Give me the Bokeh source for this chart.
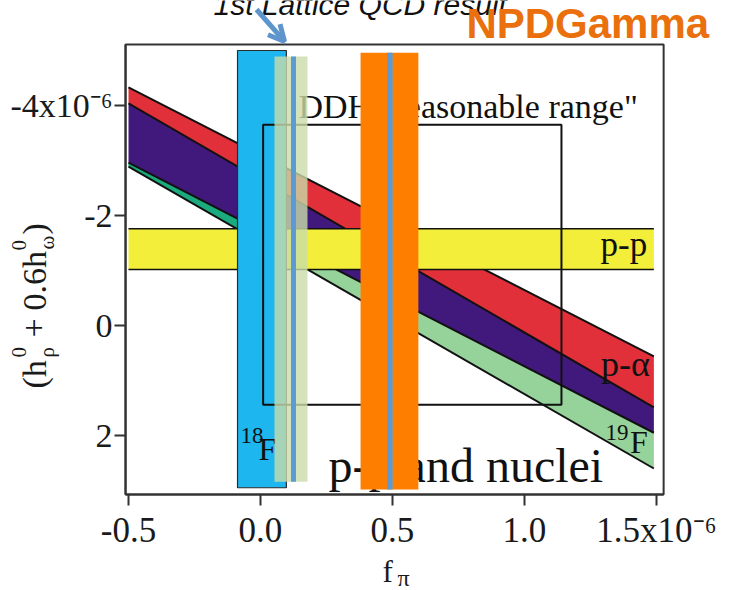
import numpy as np
from math import pi
from bokeh.plotting import figure
from bokeh.models import Range1d, Arrow, OpenHead, FixedTicker
from bokeh.core.properties import value
from bokeh.embed import file_html
from bokeh.resources import INLINE

# ---------------- data ----------------
band_f = [-0.5, 1.49]                 # f_pi at band ends (x1e-6)
red_top = [-4.33, 0.56]               # p-alpha band upper edge
red_bottom = [-4.04, 1.49]            # p-alpha / purple boundary
purple_bottom = [-2.96, 1.95]         # purple / 19F boundary
green_bottom = [-2.89, 2.60]          # 19F lower edge

pp_f = [-0.5, 1.49]
pp_h = [-1.76, -1.02]                 # p-p band

ddh_f = [0.01, 1.14]                  # DDH reasonable range
ddh_h = [-3.65, 1.44]

f18_f = [-0.087, 0.098]               # 18F band
f18_h = [-5.0, 2.95]
lqcd_f = [0.053, 0.178]               # lattice QCD band
lqcd_center = [0.125]
lqcd_h = [-4.89, 2.84]
npdg_f = [0.379, 0.598]               # NPDGamma band
npdg_center = [0.49]
npdg_h = [-4.96, 2.98]

frame_f = [-0.511, 1.527]             # plotted box (axis extent)
frame_h = [-5.109, 3.073]

x_ticks = [-0.5, 0.0, 0.5, 1.0, 1.5]
x_tick_labels = ["-0.5", "0.0", "0.5", "1.0", "1.5x10\u207b\u2076"]
y_ticks = [-4, -2, 0, 2]
y_tick_labels = ["-4x10\u207b\u2076", "-2", "0", "2"]

# in-box label anchors (f_pi, h) - baseline positions
lab_text = ['DDH "reasonable range"', "p-p", "p-\u03b1", "p-p and nuclei"]
lab_x = [0.144, 1.288, 1.29, 0.258]
lab_y = [-3.78, -1.27, 0.91, 2.84]
lab_size = [34, 35, 36, 48]
iso_big = ["F", "F"]
iso_big_x = [1.40, -0.008]
iso_big_y = [2.31, 2.44]
iso_sup = ["19", "18"]
iso_sup_x = [1.307, -0.076]
iso_sup_y = [2.09, 2.13]

# labels around the box (f_pi, h) - baseline positions
title_text = "1st Lattice QCD result"
title_pos = (-0.178, -5.66)
exp_text = "NPDGamma"
exp_pos = (0.780, -5.236)
arrow_from = (-0.015, -5.745)
arrow_to = (0.091, -5.164)
ylab_parts = ["(h", "0", "\u03c1", "+", "0.6h", "0", "\u03c9", ")"]
ylab_x = [-0.814, -0.890, -0.784, -0.814, -0.814, -0.890, -0.784, -0.814]
ylab_y = [1.145, 0.582, 0.582, 0.218, -0.273, -1.364, -1.382, -1.655]
ylab_size = [34, 21, 21, 34, 34, 21, 21, 34]
xlab_parts = ["f", "\u03c0"]
xlab_x = [0.462, 0.519]
xlab_y = [4.655, 4.73]
xlab_size = [31, 24]

SERIF = "Liberation Serif"
SANS = "Liberation Sans"
W, H = 730, 590
XR = (-0.9848, 1.7803)
YR = (4.818, -5.909)
PX_X = W / (XR[1] - XR[0])       # pixels per unit along f_pi
PX_Y = H / (YR[0] - YR[1])       # pixels per unit along h
BASE_SHIFT = 0.33                # em; alphabetic-baseline offset of svg text

p = figure(width=W, height=H,
           x_range=Range1d(*XR), y_range=Range1d(*YR),
           output_backend="svg", toolbar_location=None,
           min_border=0, min_border_left=0, min_border_right=0,
           min_border_top=0, min_border_bottom=0)
p.grid.visible = False
p.outline_line_color = None
p.background_fill_color = "white"
p.border_fill_color = "white"

p.xaxis.ticker = FixedTicker(ticks=x_ticks)
p.xaxis.major_label_overrides = dict(zip(x_ticks, x_tick_labels))
p.xaxis.fixed_location = frame_h[1]
p.xaxis.bounds = (frame_f[0], frame_f[1])
p.yaxis.ticker = FixedTicker(ticks=y_ticks)
p.yaxis.major_label_overrides = dict(zip(y_ticks, y_tick_labels))
p.yaxis.fixed_location = frame_f[0]
p.yaxis.bounds = (frame_h[0], frame_h[1])
for ax in (p.xaxis[0], p.yaxis[0]):
    ax.major_label_text_font = SERIF
    ax.major_label_text_color = "#1a1a1a"
    ax.axis_line_color = "#333333"
    ax.axis_line_width = 2
    ax.major_tick_line_color = "#333333"
    ax.major_tick_line_width = 2
    ax.major_tick_out = 11
    ax.major_tick_in = 0
    ax.minor_tick_line_color = None
p.xaxis.major_label_text_font_size = "35px"
p.yaxis.major_label_text_font_size = "34px"
p.xaxis.major_label_standoff = 5
p.yaxis.major_label_standoff = 2


def txt(x, y, t, size, font=SERIF, style="normal", color="#111111", rotated=False):
    shift = BASE_SHIFT * size
    if rotated:
        xs, ys, ang = x - shift / PX_X, y, pi / 2
    else:
        xs, ys, ang = x, y - shift / PX_Y, 0.0
    p.text(x=[xs], y=[ys], text=[t], text_font=value(font),
           text_font_size=value(f"{size}px"), text_font_style=style,
           text_color=color, angle=ang,
           text_baseline="alphabetic", text_align="left")


# ---------------- diagonal bands ----------------
p.patch(band_f + band_f[::-1], purple_bottom + green_bottom[::-1],
        fill_color="#96d39b", line_color=None)
pb_c = float(np.interp(f18_f[0], band_f, purple_bottom))
gb_c = float(np.interp(f18_f[0], band_f, green_bottom))
p.patch([band_f[0], f18_f[0], f18_f[0], band_f[0]],
        [purple_bottom[0], pb_c, gb_c, green_bottom[0]],
        fill_color="#1aaa7d", line_color=None)
p.patch(band_f + band_f[::-1], red_bottom + purple_bottom[::-1],
        fill_color="#41197c", line_color=None)
p.patch(band_f + band_f[::-1], red_top + red_bottom[::-1],
        fill_color="#e1303a", line_color=None)
for edge in (red_top, red_bottom, purple_bottom, green_bottom):
    p.line(band_f, edge, line_color="#111111", line_width=2)

# ---------------- p-p band ----------------
p.quad(left=pp_f[0], right=pp_f[1], bottom=pp_h[1], top=pp_h[0],
       fill_color="#f2ee3a", line_color=None)
for h in pp_h:
    p.line(pp_f, [h, h], line_color="#111111", line_width=1.5)

# ---------------- 18F band ----------------
p.quad(left=f18_f[0], right=f18_f[1], bottom=f18_h[1], top=f18_h[0],
       fill_color="#1db6ee", line_color="#2a2a2a", line_width=1.2)

# ---------------- DDH box ----------------
p.quad(left=ddh_f[0], right=ddh_f[1], bottom=ddh_h[1], top=ddh_h[0],
       fill_color=None, line_color="#111111", line_width=2)

# ---------------- texts in the box ----------------
for t, x, y, s in zip(lab_text, lab_x, lab_y, lab_size):
    txt(x, y, t, s)
for t, x, y in zip(iso_big, iso_big_x, iso_big_y):
    txt(x, y, t, 32)
for t, x, y in zip(iso_sup, iso_sup_x, iso_sup_y):
    txt(x, y, t, 23)

# ---------------- lattice QCD band ----------------
p.quad(left=lqcd_f[0], right=lqcd_f[1], bottom=lqcd_h[1], top=lqcd_h[0],
       fill_color="#c9dcaa", fill_alpha=0.8, line_color=None)
p.segment(x0=lqcd_center, y0=[lqcd_h[0]], x1=lqcd_center, y1=[lqcd_h[1]],
          line_color="#5b9bd5", line_width=5)

# ---------------- NPDGamma band ----------------
p.quad(left=npdg_f[0], right=npdg_f[1], bottom=npdg_h[1], top=npdg_h[0],
       fill_color="#fe7f00", line_color=None)
p.segment(x0=npdg_center, y0=[npdg_h[0]], x1=npdg_center, y1=[npdg_h[1]],
          line_color="#5b9bd5", line_width=5.5)

# ---------------- box outline ----------------
p.quad(left=frame_f[0], right=frame_f[1], bottom=frame_h[1], top=frame_h[0],
       fill_color=None, line_color="#333333", line_width=2)

# ---------------- labels around the box ----------------
txt(title_pos[0], title_pos[1], title_text, 30, font=SANS, style="italic")
txt(exp_pos[0], exp_pos[1], exp_text, 42, font=SANS, style="bold", color="#e9700c")
p.add_layout(Arrow(x_start=arrow_from[0], y_start=arrow_from[1],
                   x_end=arrow_to[0], y_end=arrow_to[1],
                   line_color="#5e95cc", line_width=5,
                   end=OpenHead(size=16, line_width=5, line_color="#5e95cc")))
for t, x, y, s in zip(ylab_parts, ylab_x, ylab_y, ylab_size):
    txt(x, y, t, s, color="#1a1a1a", rotated=True)
for t, x, y, s in zip(xlab_parts, xlab_x, xlab_y, xlab_size):
    txt(x, y, t, s, color="#1a1a1a")

open("out.html", "w").write(file_html(p, INLINE))
